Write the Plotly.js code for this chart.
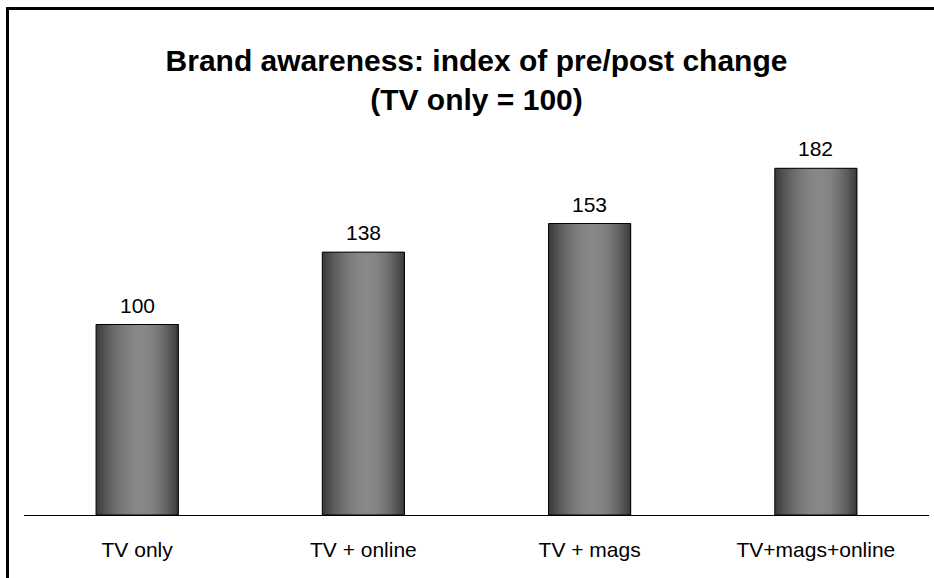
<!DOCTYPE html>
<html>
<head>
<meta charset="utf-8">
<script src="https://cdn.plot.ly/plotly-3.0.1.min.js"></script>
<style>
html,body{margin:0;padding:0;background:#fff;}
#chart{width:934px;height:578px;}
</style>
</head>
<body>
<div id="chart"></div>
<script>
// ---- data ----
const categories = ["TV only", "TV + online", "TV + mags", "TV+mags+online"];
const values = [100, 138, 153, 182];
const valueLabels = ["100", "138", "153", "182"];
const titleText = "<b>Brand awareness: index of pre/post change<br>(TV only = 100)</b>";

// ---- styling / geometry ----
const W = 934, H = 578;
const mL = 24, mR = 5, mT = 134, mB = 63;
const barWidth = 0.363;
const slices = 40;
const fontFam = "Liberation Sans, Arial, sans-serif";

function shade(t) {
  // dark edges, lighter just right of centre
  const peak = 0.55;
  let u = t < peak ? t / peak : (1 - t) / (1 - peak);
  u = Math.sin(u * Math.PI / 2);
  const v = Math.round(56 + (136 - 56) * Math.pow(u, 0.9));
  return `rgb(${v},${v},${v})`;
}

const traces = [];
for (let k = 0; k < slices; k++) {
  const t = (k + 0.5) / slices;
  const off = -barWidth / 2 + k * barWidth / slices;
  traces.push({
    type: "bar",
    x: categories,
    y: values,
    width: categories.map(() => barWidth / 2 - off),
    offset: categories.map(() => off),
    marker: { color: shade(t), line: { width: 0 } },
    hoverinfo: "skip",
    showlegend: false
  });
}
// outline
traces.push({
  type: "bar",
  x: categories,
  y: values,
  width: categories.map(() => barWidth),
  offset: categories.map(() => -barWidth / 2),
  marker: { color: "rgba(0,0,0,0)", line: { color: "#000", width: 1 } },
  hoverinfo: "skip",
  showlegend: false
});

const annotations = categories.map((c, i) => ({
  x: c, y: values[i], xref: "x", yref: "y",
  text: valueLabels[i], showarrow: false,
  yanchor: "bottom", yshift: 6,
  font: { family: fontFam, size: 21, color: "#000" }
}));

const pw = W - mL - mR, ph = H - mT - mB;
const px2x = p => (p - mL) / pw;
const py2y = p => (H - mB - p) / ph;

const layout = {
  width: W, height: H,
  margin: { l: mL, r: mR, t: mT, b: mB, pad: 0 },
  paper_bgcolor: "#fff", plot_bgcolor: "#fff",
  barmode: "overlay",
  title: {
    text: titleText,
    x: 0.5, xref: "paper", xanchor: "center",
    y: 1 - 71 / H, yref: "container", yanchor: "middle",
    font: { family: fontFam, size: 30, color: "#000" }
  },
  xaxis: {
    type: "category",
    showline: true, linecolor: "#000", linewidth: 1,
    ticks: "", showgrid: false, zeroline: false,
    tickfont: { family: fontFam, size: 21, color: "#000" },
    ticklabelstandoff: 16,
    fixedrange: true
  },
  yaxis: {
    range: [0, 200], visible: false, showgrid: false, zeroline: false, fixedrange: true
  },
  annotations: annotations,
  shapes: [
    { type: "line", xref: "paper", yref: "paper", layer: "above",
      x0: px2x(7.5), x1: px2x(7.5), y0: py2y(7), y1: py2y(600),
      line: { color: "#000", width: 3 } },
    { type: "line", xref: "paper", yref: "paper", layer: "above",
      x0: px2x(6), x1: px2x(1000), y0: py2y(8.5), y1: py2y(8.5),
      line: { color: "#000", width: 3 } }
  ]
};

Plotly.newPlot("chart", traces, layout, { displayModeBar: false, staticPlot: true });
</script>
</body>
</html>
